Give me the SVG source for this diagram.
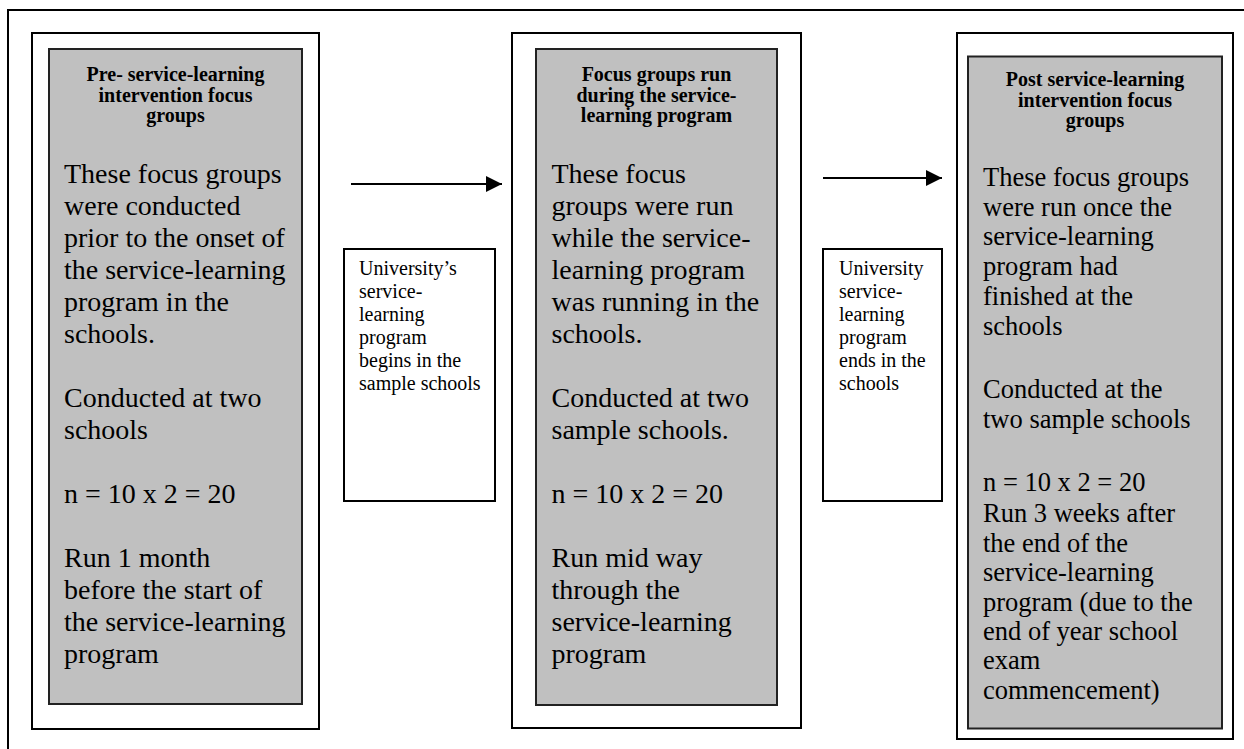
<svg xmlns="http://www.w3.org/2000/svg" width="1244" height="749" viewBox="0 0 1244 749">
<defs>
<marker id="arr" markerUnits="userSpaceOnUse" markerWidth="17" markerHeight="16" refX="16" refY="8" orient="auto">
<path d="M0,0 L16,8 L0,16 Z" fill="#000"/>
</marker>
<style>
.frame{fill:none;stroke:#000;stroke-width:2}
.outer{fill:#fff;stroke:#000;stroke-width:2}
.gray{fill:#c0c0c0;stroke:#222;stroke-width:2}
.small{fill:#fff;stroke:#000;stroke-width:2}
.title{font-family:"Liberation Serif","Times New Roman",serif;font-weight:bold;font-size:20px;fill:#000;text-anchor:middle}
.body{font-family:"Liberation Serif","Times New Roman",serif;font-size:28px;fill:#000}
.body3{font-family:"Liberation Serif","Times New Roman",serif;font-size:26.5px;fill:#000}
.note{font-family:"Liberation Serif","Times New Roman",serif;font-size:20px;fill:#000}
.conn{stroke:#000;stroke-width:2;fill:none}
</style>
</defs>
<rect class="frame" x="8" y="10" width="1250" height="760"/>

<g id="node-pre">
<rect class="outer" x="32" y="33" width="287" height="696"/>
<rect class="gray" x="49" y="49" width="253" height="655"/>
<text class="title" x="175.5" y="81">Pre- service-learning</text>
<text class="title" x="175.5" y="101.5">intervention focus</text>
<text class="title" x="175.5" y="122">groups</text>
<text class="body" x="64" y="183">These focus groups</text>
<text class="body" x="64" y="215">were conducted</text>
<text class="body" x="64" y="247">prior to the onset of</text>
<text class="body" x="64" y="279">the service-learning</text>
<text class="body" x="64" y="311">program in the</text>
<text class="body" x="64" y="343">schools.</text>
<text class="body" x="64" y="407">Conducted at two</text>
<text class="body" x="64" y="439">schools</text>
<text class="body" x="64" y="503">n = 10 x 2 = 20</text>
<text class="body" x="64" y="567">Run 1 month</text>
<text class="body" x="64" y="599">before the start of</text>
<text class="body" x="64" y="631">the service-learning</text>
<text class="body" x="64" y="663">program</text>
</g>

<g id="node-begins">
<rect class="small" x="344" y="249" width="151" height="252"/>
<text class="note" x="359" y="275">University’s</text>
<text class="note" x="359" y="298">service-</text>
<text class="note" x="359" y="321">learning</text>
<text class="note" x="359" y="344">program</text>
<text class="note" x="359" y="367">begins in the</text>
<text class="note" x="359" y="390">sample schools</text>
</g>

<g id="node-during">
<rect class="outer" x="512" y="33" width="289" height="695"/>
<rect class="gray" x="536" y="49" width="241" height="656"/>
<text class="title" x="656.5" y="81">Focus groups run</text>
<text class="title" x="656.5" y="101.5">during the service-</text>
<text class="title" x="656.5" y="122">learning program</text>
<text class="body" x="551.5" y="183">These focus</text>
<text class="body" x="551.5" y="215">groups were run</text>
<text class="body" x="551.5" y="247">while the service-</text>
<text class="body" x="551.5" y="279">learning program</text>
<text class="body" x="551.5" y="311">was running in the</text>
<text class="body" x="551.5" y="343">schools.</text>
<text class="body" x="551.5" y="407">Conducted at two</text>
<text class="body" x="551.5" y="439">sample schools.</text>
<text class="body" x="551.5" y="503">n = 10 x 2 = 20</text>
<text class="body" x="551.5" y="567">Run mid way</text>
<text class="body" x="551.5" y="599">through the</text>
<text class="body" x="551.5" y="631">service-learning</text>
<text class="body" x="551.5" y="663">program</text>
</g>

<g id="node-ends">
<rect class="small" x="823" y="249" width="119" height="252"/>
<text class="note" x="839" y="275">University</text>
<text class="note" x="839" y="298">service-</text>
<text class="note" x="839" y="321">learning</text>
<text class="note" x="839" y="344">program</text>
<text class="note" x="839" y="367">ends in the</text>
<text class="note" x="839" y="390">schools</text>
</g>

<g id="node-post">
<rect class="outer" x="957" y="33" width="276" height="706"/>
<rect class="gray" x="968" y="56.5" width="254" height="672"/>
<text class="title" x="1095" y="86">Post service-learning</text>
<text class="title" x="1095" y="106.5">intervention focus</text>
<text class="title" x="1095" y="127">groups</text>
<text class="body3" x="983" y="186">These focus groups</text>
<text class="body3" x="983" y="216">were run once the</text>
<text class="body3" x="983" y="245">service-learning</text>
<text class="body3" x="983" y="275">program had</text>
<text class="body3" x="983" y="305">finished at the</text>
<text class="body3" x="983" y="335">schools</text>
<text class="body3" x="983" y="398">Conducted at the</text>
<text class="body3" x="983" y="428">two sample schools</text>
<text class="body3" x="983" y="491">n = 10 x 2 = 20</text>
<text class="body3" x="983" y="522">Run 3 weeks after</text>
<text class="body3" x="983" y="552">the end of the</text>
<text class="body3" x="983" y="581">service-learning</text>
<text class="body3" x="983" y="611">program (due to the</text>
<text class="body3" x="983" y="640">end of year school</text>
<text class="body3" x="983" y="669">exam</text>
<text class="body3" x="983" y="699">commencement)</text>
</g>

<g id="connectors">
<line class="conn" x1="351" y1="184" x2="502" y2="184" marker-end="url(#arr)"/>
<line class="conn" x1="823" y1="178" x2="942" y2="178" marker-end="url(#arr)"/>
</g>
</svg>
